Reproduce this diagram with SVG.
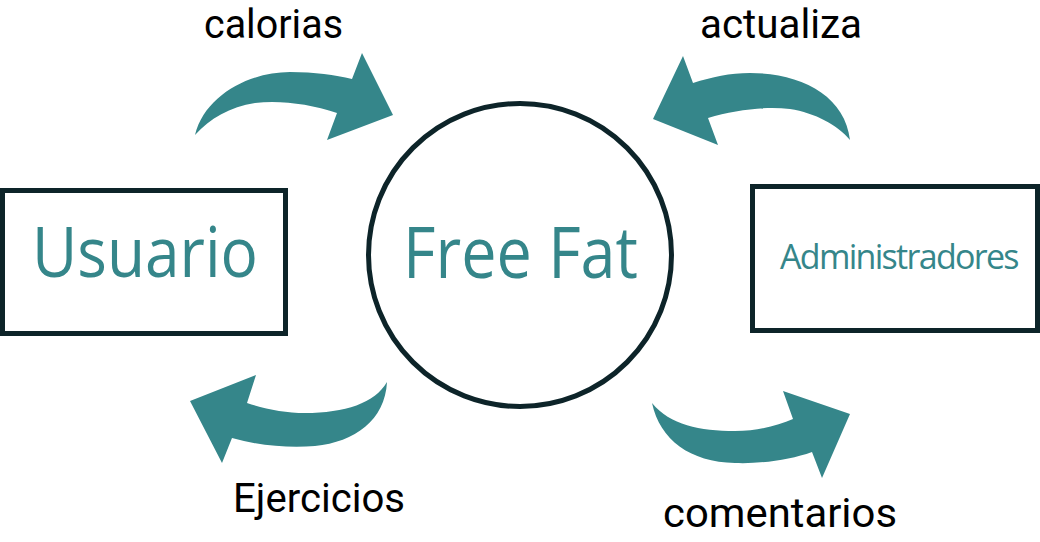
<svg xmlns="http://www.w3.org/2000/svg" width="1040" height="542" viewBox="0 0 1040 542">
  <style>
    .frame { fill: #ffffff; stroke: #0d2429; stroke-width: 5; }
    .name { font-family: "Open Sans", "Liberation Sans", sans-serif; fill: #35868a; }
    .label { font-family: Roboto, "Liberation Sans", sans-serif; font-size: 40px; fill: #000000; }
    .flow { fill: #35868a; stroke: none; }
  </style>
  <rect width="1040" height="542" fill="#ffffff"/>

  <!-- curved block arrows -->
  <g id="connectors">
    <path id="arrow-calorias" class="flow" d="M195,135 C205,95 250,72 290,72 C315,72 335,75 352,79 L362,53 L393,115 L327,140 L337,113 C310,104 280,100 255,103 C230,107 210,118 195,135 Z"/>
    <path id="arrow-actualiza" class="flow" d="M850,140 C845,95 800,73 750,73 C730,73 712,77 693,83 L683,56 L653,119 L718,145 L708,118 C735,110 765,106 790,109 C815,113 838,125 850,140 Z"/>
    <path id="arrow-ejercicios" class="flow" d="M387,382 C375,403 345,413 305,413 C285,413 265,409 247,403 L256,375 L190,401 L222,463 L232,438 C260,446 290,448 315,446 C355,442 385,420 387,382 Z"/>
    <path id="arrow-comentarios" class="flow" d="M652,403 C670,425 700,431 735,431 C760,431 778,425 793,419 L783,391 L850,414 L822,478 L812,452 C790,460 760,464 735,463 C690,462 660,440 652,403 Z"/>
    <text class="label" x="204" y="38" textLength="139" lengthAdjust="spacingAndGlyphs">calorias</text>
    <text class="label" x="700" y="38" textLength="162" lengthAdjust="spacingAndGlyphs">actualiza</text>
    <text class="label" x="233" y="512" textLength="172" lengthAdjust="spacingAndGlyphs">Ejercicios</text>
    <text class="label" x="663" y="527" textLength="234" lengthAdjust="spacingAndGlyphs">comentarios</text>
  </g>

  <g id="usuario">
    <rect class="frame" x="2.5" y="190.5" width="283" height="143"/>
    <text class="name" x="32" y="277" font-size="70" textLength="226" lengthAdjust="spacingAndGlyphs">Usuario</text>
  </g>

  <g id="free-fat">
    <circle class="frame" cx="520" cy="255" r="151.5"/>
    <text class="name" x="403" y="278" font-size="71" textLength="235" lengthAdjust="spacingAndGlyphs">Free Fat</text>
  </g>

  <g id="administradores">
    <rect class="frame" x="752.5" y="186.5" width="285" height="144"/>
    <text class="name" x="780" y="269" font-size="34" letter-spacing="-1.7">Administradores</text>
  </g>
</svg>
